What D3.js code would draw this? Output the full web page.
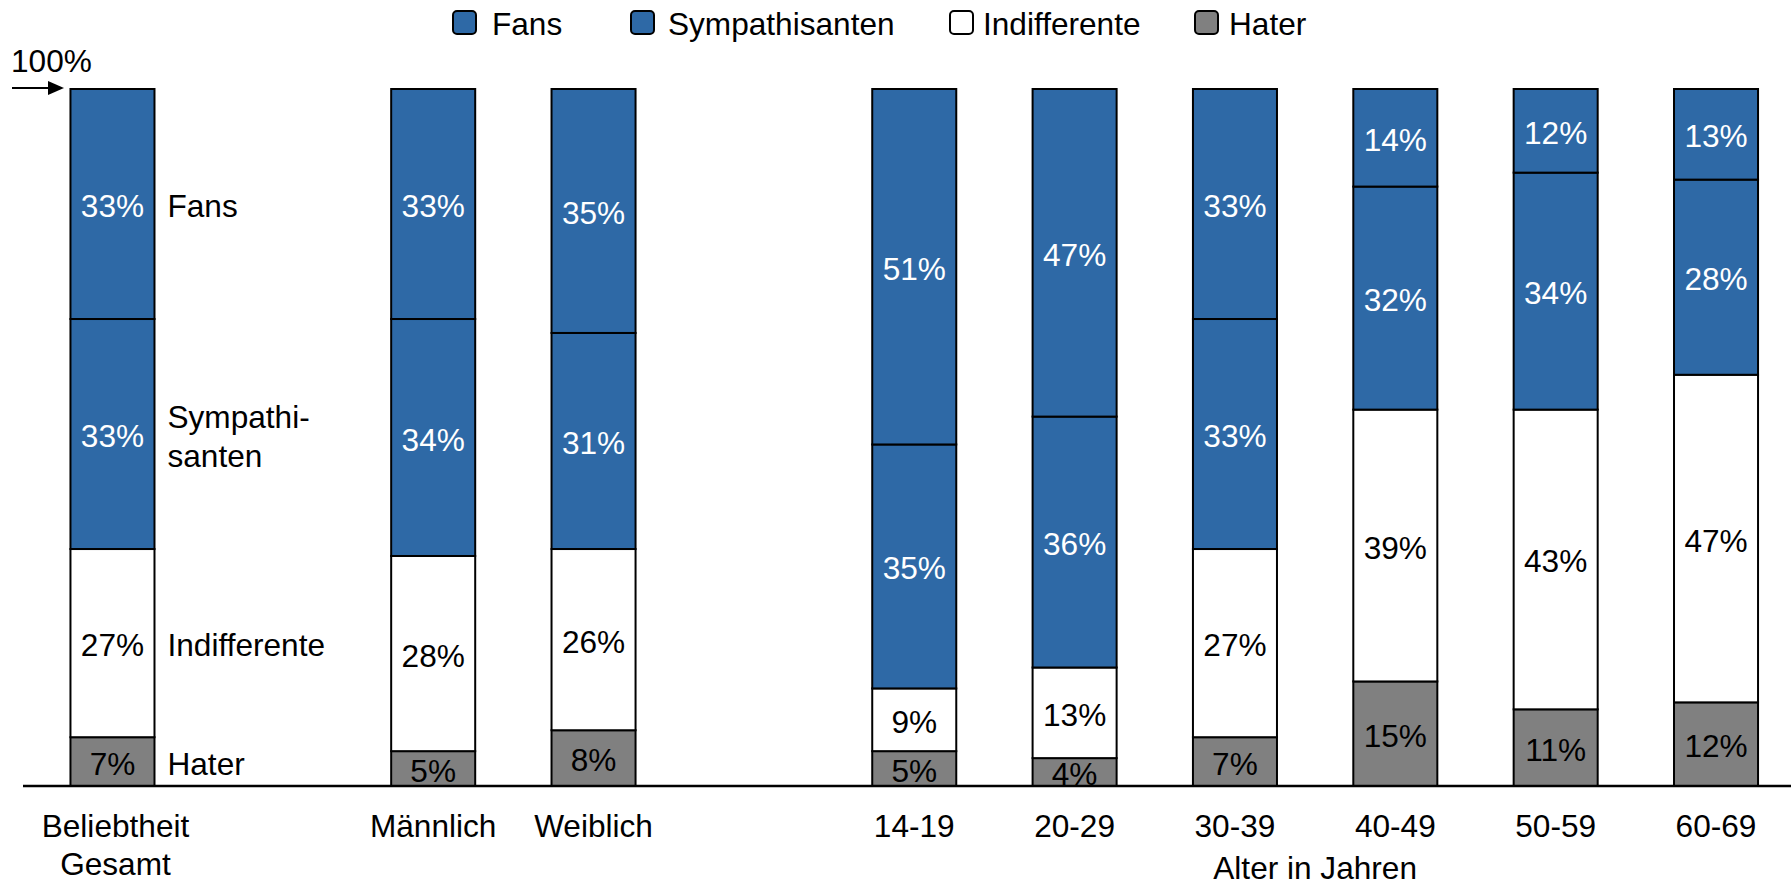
<!DOCTYPE html>
<html>
<head>
<meta charset="utf-8">
<script src="https://cdn.jsdelivr.net/npm/d3@7/dist/d3.min.js"></script>
<style>
  html, body { margin: 0; padding: 0; background: #fff; }
  svg { display: block; }
  text { font-family: "Liberation Sans", Arial, Helvetica, sans-serif; }
</style>
</head>
<body>
<svg id="chart" width="1791" height="886"></svg>
<script>
// ---- Data ----
const categories = ["Beliebtheit Gesamt", "Männlich", "Weiblich", "14-19", "20-29", "30-39", "40-49", "50-59", "60-69"];
const fans           = [33, 33, 35, 51, 47, 33, 14, 12, 13];
const sympathisanten = [33, 34, 31, 35, 36, 33, 32, 34, 28];
const indifferente   = [27, 28, 26,  9, 13, 27, 39, 43, 47];
const hater          = [ 7,  5,  8,  5,  4,  7, 15, 11, 12];
const seriesNames = ["Fans", "Sympathisanten", "Indifferente", "Hater"];
const yTickLabel = "100%";
const ageAxisTitle = "Alter in Jahren";

// ---- Styles ----
const colors = { "Fans": "#2E69A6", "Sympathisanten": "#2E69A6", "Indifferente": "#FFFFFF", "Hater": "#808080" };
const textColors = { "Fans": "#FFFFFF", "Sympathisanten": "#FFFFFF", "Indifferente": "#000000", "Hater": "#000000" };
const FS = 31.6;

const svg = d3.select("#chart");

// table built from arrays
const table = categories.map((c, i) => ({
  cat: c, "Fans": fans[i], "Sympathisanten": sympathisanten[i],
  "Indifferente": indifferente[i], "Hater": hater[i]
}));
const stackKeys = ["Hater", "Indifferente", "Sympathisanten", "Fans"];
const stacked = d3.stack().keys(stackKeys)(table);

// slots with gaps between groups
const slots = [categories[0], "__gap1", categories[1], categories[2], "__gap2", ...categories.slice(3)];
const x = d3.scaleBand().domain(slots).range([32.3, 1796.2]).paddingInner(0.476).paddingOuter(0.238);
const y = d3.scaleLinear().domain([0, 100]).range([786, 89]);

// bars
const layer = svg.append("g").selectAll("g").data(stacked).join("g")
  .attr("fill", d => colors[d.key]);
layer.selectAll("rect").data(d => d.map(v => ({ key: d.key, v }))).join("rect")
  .attr("x", d => x(d.v.data.cat))
  .attr("width", x.bandwidth())
  .attr("y", d => y(d.v[1]))
  .attr("height", d => y(d.v[0]) - y(d.v[1]))
  .attr("stroke", "#000")
  .attr("stroke-width", 2);

// segment labels
const lab = svg.append("g").selectAll("g").data(stacked).join("g");
lab.selectAll("text").data(d => d.map(v => ({ key: d.key, v }))).join("text")
  .attr("x", d => x(d.v.data.cat) + x.bandwidth() / 2)
  .attr("y", d => (y(d.v[0]) + y(d.v[1])) / 2 + 2)
  .attr("text-anchor", "middle")
  .attr("dominant-baseline", "central")
  .attr("font-size", FS)
  .attr("fill", d => textColors[d.key])
  .text(d => (d.v[1] - d.v[0]) + "%");

// baseline
svg.append("line").attr("x1", 23).attr("x2", 1791).attr("y1", y(0)).attr("y2", y(0))
  .attr("stroke", "#000").attr("stroke-width", 2.5);

// 100% marker with arrow
svg.append("text").attr("x", 11).attr("y", 72).attr("font-size", FS).text(yTickLabel);
svg.append("line").attr("x1", 12).attr("x2", 52).attr("y1", y(100) - 1).attr("y2", y(100) - 1)
  .attr("stroke", "#000").attr("stroke-width", 2);
svg.append("path")
  .attr("d", `M48,${y(100) - 8} L64,${y(100) - 1} L48,${y(100) + 6} Z`)
  .attr("fill", "#000");

// side annotations next to first bar
const firstStack = stackKeys.map(k => {
  const s = stacked.find(l => l.key === k)[0];
  return { key: k, mid: (y(s[0]) + y(s[1])) / 2 };
});
const annX = x(categories[0]) + x.bandwidth() + 13;
const annLines = { "Fans": ["Fans"], "Sympathisanten": ["Sympathi-", "santen"], "Indifferente": ["Indifferente"], "Hater": ["Hater"] };
firstStack.forEach(d => {
  const lines = annLines[d.key];
  const lh = 39;
  const t = svg.append("text").attr("font-size", FS).attr("fill", "#000");
  lines.forEach((ln, i) => {
    t.append("tspan").attr("x", annX)
      .attr("y", d.mid + 2 + (i - (lines.length - 1) / 2) * lh)
      .attr("dominant-baseline", "central")
      .text(ln);
  });
});

// category labels
const catLines = c => c === "Beliebtheit Gesamt" ? ["Beliebtheit", "Gesamt"] : [c];
categories.forEach(c => {
  const t = svg.append("text").attr("font-size", FS).attr("text-anchor", "middle");
  catLines(c).forEach((ln, i) => {
    t.append("tspan").attr("x", x(c) + x.bandwidth() / 2 + (catLines(c).length > 1 ? 3 : 0))
      .attr("y", 837 + i * 38).text(ln);
  });
});

// age axis title
const ages = categories.slice(3);
svg.append("text").attr("font-size", FS).attr("text-anchor", "middle")
  .attr("x", (x(ages[0]) + x(ages[ages.length - 1]) + x.bandwidth()) / 2)
  .attr("y", 879).text(ageAxisTitle);

// legend
const legendSquareX = [453, 631, 950, 1195];
const legendTextX = [492, 668, 983, 1229];
const lg = svg.append("g");
seriesNames.forEach((n, i) => {
  lg.append("rect").attr("x", legendSquareX[i]).attr("y", 11).attr("width", 23).attr("height", 23)
    .attr("rx", 4).attr("ry", 4).attr("fill", colors[n]).attr("stroke", "#000").attr("stroke-width", 2);
  lg.append("text").attr("x", legendTextX[i]).attr("y", 35).attr("font-size", FS).text(n);
});
</script>
</body>
</html>
